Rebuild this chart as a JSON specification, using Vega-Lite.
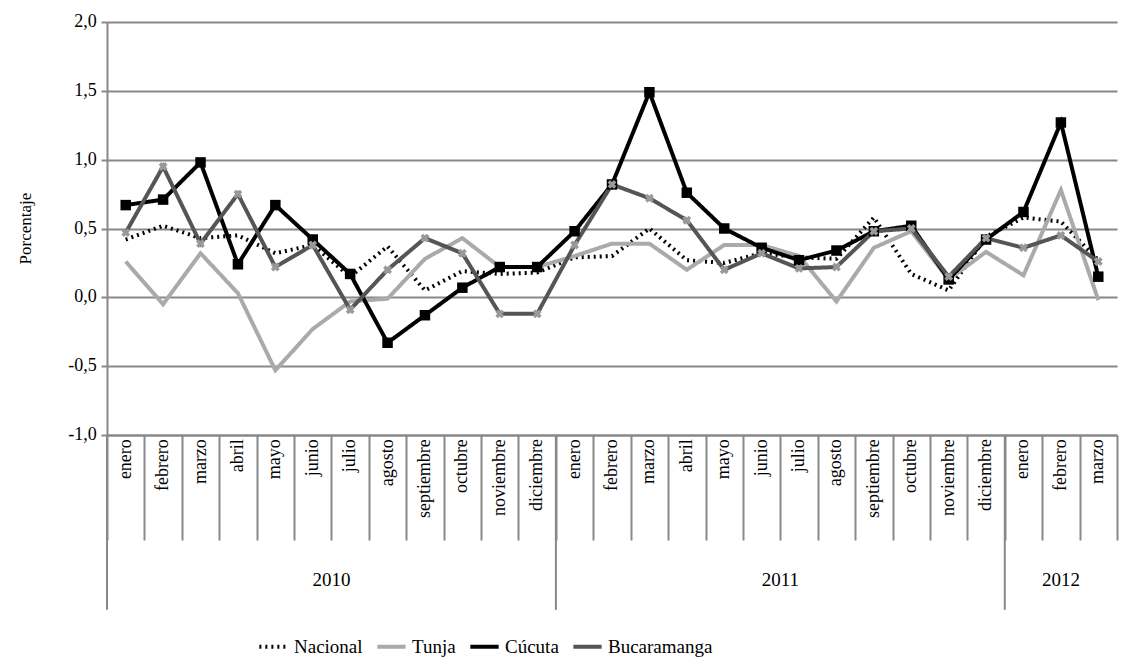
{
  "$schema": "https://vega.github.io/schema/vega-lite/v6.json",
  "width": 1010,
  "height": 413,
  "autosize": "none",
  "padding": {"left": 107, "top": 22, "right": 7, "bottom": 229},
  "background": "white",
  "config": {
    "font": "Liberation Serif, DejaVu Serif, serif",
    "view": {"stroke": null},
    "text": {"font": "Liberation Serif, DejaVu Serif, serif", "color": "black"},
    "legend": {"labelFont": "Liberation Serif, DejaVu Serif, serif"}
  },
  "datasets": {
    "years": [
      {"mes": "2010-07", "anio": "2010", "y": -2.05},
      {"mes": "2011-07", "anio": "2011", "y": -2.05}
    ],
    "year12": [{"mes": "2012-02", "anio": "2012", "y": -2.05}],
    "seps": [
      {"mes": "2010-01", "y": -1, "y2": -2.27},
      {"mes": "2011-01", "y": -1, "y2": -2.27},
      {"mes": "2012-01", "y": -1, "y2": -2.27}
    ],
    "yticks": [
      {"mes": "2010-01", "v": -1, "t": "-1,0"},
      {"mes": "2010-01", "v": -0.5, "t": "-0,5"},
      {"mes": "2010-01", "v": 0, "t": "0,0"},
      {"mes": "2010-01", "v": 0.5, "t": "0,5"},
      {"mes": "2010-01", "v": 1, "t": "1,0"},
      {"mes": "2010-01", "v": 1.5, "t": "1,5"},
      {"mes": "2010-01", "v": 2, "t": "2,0"}
    ],
    "ytitle": [{"mes": "2010-01", "v": 0.5, "t": "Porcentaje"}]
  },
  "data": {
    "values": [
      {"mes":"2010-01","m":"enero","Nacional":0.42,"Tunja":0.26,"Cúcuta":0.67,"Bucaramanga":0.47},
      {"mes":"2010-02","m":"febrero","Nacional":0.52,"Tunja":-0.05,"Cúcuta":0.71,"Bucaramanga":0.95},
      {"mes":"2010-03","m":"marzo","Nacional":0.43,"Tunja":0.32,"Cúcuta":0.98,"Bucaramanga":0.39},
      {"mes":"2010-04","m":"abril","Nacional":0.45,"Tunja":0.03,"Cúcuta":0.24,"Bucaramanga":0.75},
      {"mes":"2010-05","m":"mayo","Nacional":0.32,"Tunja":-0.53,"Cúcuta":0.67,"Bucaramanga":0.22},
      {"mes":"2010-06","m":"junio","Nacional":0.38,"Tunja":-0.23,"Cúcuta":0.42,"Bucaramanga":0.38},
      {"mes":"2010-07","m":"julio","Nacional":0.15,"Tunja":-0.03,"Cúcuta":0.17,"Bucaramanga":-0.09},
      {"mes":"2010-08","m":"agosto","Nacional":0.37,"Tunja":-0.01,"Cúcuta":-0.33,"Bucaramanga":0.2},
      {"mes":"2010-09","m":"septiembre","Nacional":0.05,"Tunja":0.28,"Cúcuta":-0.13,"Bucaramanga":0.43},
      {"mes":"2010-10","m":"octubre","Nacional":0.19,"Tunja":0.43,"Cúcuta":0.07,"Bucaramanga":0.32},
      {"mes":"2010-11","m":"noviembre","Nacional":0.17,"Tunja":0.22,"Cúcuta":0.22,"Bucaramanga":-0.12},
      {"mes":"2010-12","m":"diciembre","Nacional":0.18,"Tunja":0.22,"Cúcuta":0.22,"Bucaramanga":-0.12},
      {"mes":"2011-01","m":"enero","Nacional":0.29,"Tunja":0.3,"Cúcuta":0.48,"Bucaramanga":0.38},
      {"mes":"2011-02","m":"febrero","Nacional":0.3,"Tunja":0.39,"Cúcuta":0.82,"Bucaramanga":0.82},
      {"mes":"2011-03","m":"marzo","Nacional":0.5,"Tunja":0.39,"Cúcuta":1.49,"Bucaramanga":0.72},
      {"mes":"2011-04","m":"abril","Nacional":0.27,"Tunja":0.2,"Cúcuta":0.76,"Bucaramanga":0.56},
      {"mes":"2011-05","m":"mayo","Nacional":0.25,"Tunja":0.38,"Cúcuta":0.5,"Bucaramanga":0.2},
      {"mes":"2011-06","m":"junio","Nacional":0.32,"Tunja":0.38,"Cúcuta":0.36,"Bucaramanga":0.32},
      {"mes":"2011-07","m":"julio","Nacional":0.29,"Tunja":0.3,"Cúcuta":0.27,"Bucaramanga":0.21},
      {"mes":"2011-08","m":"agosto","Nacional":0.28,"Tunja":-0.03,"Cúcuta":0.34,"Bucaramanga":0.22},
      {"mes":"2011-09","m":"septiembre","Nacional":0.58,"Tunja":0.36,"Cúcuta":0.48,"Bucaramanga":0.48},
      {"mes":"2011-10","m":"octubre","Nacional":0.17,"Tunja":0.48,"Cúcuta":0.52,"Bucaramanga":0.5},
      {"mes":"2011-11","m":"noviembre","Nacional":0.05,"Tunja":0.13,"Cúcuta":0.13,"Bucaramanga":0.15},
      {"mes":"2011-12","m":"diciembre","Nacional":0.44,"Tunja":0.33,"Cúcuta":0.42,"Bucaramanga":0.43},
      {"mes":"2012-01","m":"enero","Nacional":0.58,"Tunja":0.16,"Cúcuta":0.62,"Bucaramanga":0.36},
      {"mes":"2012-02","m":"febrero","Nacional":0.55,"Tunja":0.78,"Cúcuta":1.27,"Bucaramanga":0.45},
      {"mes":"2012-03","m":"marzo","Nacional":0.27,"Tunja":-0.02,"Cúcuta":0.15,"Bucaramanga":0.26}
    ]
  },
  "layer": [
    {
      "transform": [{"fold": ["Nacional", "Tunja", "Cúcuta", "Bucaramanga"], "as": ["serie", "valor"]}],
      "mark": {"type": "line", "strokeWidth": 4},
      "encoding": {
        "x": {
          "field": "mes", "type": "ordinal", "title": null,
          "axis": {"labels": false, "tickBand": "extent", "tickSize": 105, "tickColor": "#888", "tickWidth": 2, "domainColor": "#888", "domainWidth": 2},
          "scale": {"paddingInner": 0, "paddingOuter": 0}
        },
        "y": {
          "field": "valor", "type": "quantitative", "title": null,
          "scale": {"domain": [-1, 2]},
          "axis": {"labels": false, "values": [-1, -0.5, 0, 0.5, 1, 1.5, 2], "gridColor": "#888", "gridWidth": 2, "domain": true, "domainColor": "#888", "domainWidth": 2, "tickColor": "#888", "tickWidth": 2, "tickSize": 6}
        },
        "color": {
          "field": "serie", "type": "nominal", "title": null,
          "scale": {"domain": ["Nacional", "Tunja", "Cúcuta", "Bucaramanga"], "range": ["black", "#aaaaaa", "black", "#555555"]},
          "legend": {"orient": "none", "legendX": 150, "legendY": 608, "direction": "horizontal", "symbolType": "stroke", "symbolStrokeWidth": 4, "symbolSize": 800, "labelFontSize": 19, "labelColor": "black", "columnPadding": 6}
        },
        "strokeDash": {
          "field": "serie", "type": "nominal", "title": null,
          "scale": {"domain": ["Nacional", "Tunja", "Cúcuta", "Bucaramanga"], "range": [[2, 4], [1, 0], [1, 0], [1, 0]]}
        }
      }
    },
    {
      "mark": {"type": "point", "shape": "square", "filled": true, "color": "black", "size": 110, "opacity": 1},
      "encoding": {"x": {"field": "mes", "type": "ordinal"}, "y": {"field": "Cúcuta", "type": "quantitative"}}
    },
    {
      "mark": {"type": "point", "shape": "cross", "angle": 45, "filled": true, "color": "#999", "size": 80, "opacity": 1},
      "encoding": {"x": {"field": "mes", "type": "ordinal"}, "y": {"field": "Bucaramanga", "type": "quantitative"}}
    },
    {
      "mark": {"type": "text", "fontSize": 18, "angle": 270, "align": "right", "baseline": "middle"},
      "encoding": {"x": {"field": "mes", "type": "ordinal"}, "y": {"datum": -1.03}, "text": {"field": "m"}}
    },
    {
      "data": {"name": "yticks"},
      "mark": {"type": "text", "fontSize": 18, "align": "right", "baseline": "middle", "dx": -29},
      "encoding": {"x": {"field": "mes", "type": "ordinal"}, "y": {"field": "v", "type": "quantitative"}, "text": {"field": "t"}}
    },
    {
      "data": {"name": "ytitle"},
      "mark": {"type": "text", "fontSize": 17, "angle": 270, "align": "center", "baseline": "middle", "dy": -100},
      "encoding": {"x": {"field": "mes", "type": "ordinal"}, "y": {"field": "v", "type": "quantitative"}, "text": {"field": "t"}}
    },
    {
      "data": {"name": "seps"},
      "mark": {"type": "rule", "color": "#888", "strokeWidth": 2},
      "encoding": {"x": {"field": "mes", "type": "ordinal"}, "xOffset": {"value": 0}, "y": {"field": "y", "type": "quantitative"}, "y2": {"field": "y2"}}
    },
    {
      "data": {"name": "years"},
      "mark": {"type": "text", "fontSize": 19, "dx": -18.7},
      "encoding": {"x": {"field": "mes", "type": "ordinal"}, "y": {"field": "y", "type": "quantitative"}, "text": {"field": "anio"}}
    },
    {
      "data": {"name": "year12"},
      "mark": {"type": "text", "fontSize": 19},
      "encoding": {"x": {"field": "mes", "type": "ordinal"}, "y": {"field": "y", "type": "quantitative"}, "text": {"field": "anio"}}
    }
  ]
}
